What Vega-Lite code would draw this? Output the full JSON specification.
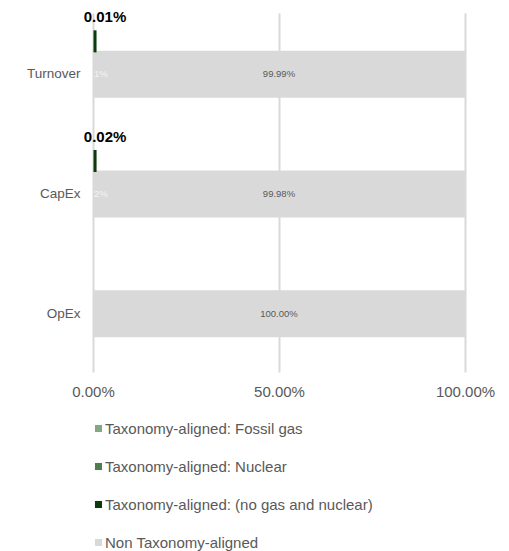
{
  "$schema": "https://vega.github.io/schema/vega-lite/v6.json",
  "autosize": {"type": "none"},
  "padding": {"left": 93, "top": 13, "right": 44, "bottom": 179},
  "width": 372,
  "height": 359,
  "background": "white",
  "config": {
    "font": "Liberation Sans",
    "view": {"stroke": null}
  },
  "data": {
    "values": [
      {"category": "Turnover", "series": "Taxonomy-aligned: (no gas and nuclear)", "value": 0.0001, "label": "0.01%", "inner": "1%"},
      {"category": "Turnover", "series": "Non Taxonomy-aligned", "value": 0.9999, "label": "99.99%", "inner": ""},
      {"category": "CapEx", "series": "Taxonomy-aligned: (no gas and nuclear)", "value": 0.0002, "label": "0.02%", "inner": "2%"},
      {"category": "CapEx", "series": "Non Taxonomy-aligned", "value": 0.9998, "label": "99.98%", "inner": ""},
      {"category": "OpEx", "series": "Non Taxonomy-aligned", "value": 1.0, "label": "100.00%", "inner": ""}
    ]
  },
  "encoding": {
    "y": {
      "field": "category",
      "type": "nominal",
      "sort": ["Turnover", "CapEx", "OpEx"],
      "scale": {"paddingInner": 0, "paddingOuter": 0},
      "axis": {
        "title": null,
        "ticks": false,
        "domain": false,
        "labelFontSize": 13.5,
        "labelColor": "#595959",
        "labelPadding": 13,
        "labelOffset": 1.5
      }
    }
  },
  "layer": [
    {
      "transform": [{"filter": "datum.series === 'Non Taxonomy-aligned'"}],
      "mark": {"type": "bar", "height": 47, "yOffset": 1.5},
      "encoding": {
        "x": {
          "field": "value",
          "type": "quantitative",
          "scale": {"domain": [0, 1], "nice": false},
          "axis": {
            "title": null,
            "values": [0, 0.5, 1],
            "format": ".2%",
            "grid": true,
            "gridColor": "#d9d9d9",
            "gridWidth": 2,
            "ticks": false,
            "domain": false,
            "labelFontSize": 15,
            "labelColor": "#595959",
            "labelPadding": 12,
            "labelFlush": false
          }
        },
        "color": {
          "field": "series",
          "type": "nominal",
          "scale": {
            "domain": ["Taxonomy-aligned: Fossil gas", "Taxonomy-aligned: Nuclear", "Taxonomy-aligned: (no gas and nuclear)", "Non Taxonomy-aligned"],
            "range": ["#84a784", "#4e7d4e", "#0b3b0b", "#d9d9d9"]
          },
          "legend": {
            "title": null,
            "orient": "none",
            "legendX": -2,
            "legendY": 408,
            "direction": "vertical",
            "symbolType": "square",
            "symbolSize": 50,
            "symbolStrokeWidth": 0,
            "labelFontSize": 15,
            "labelColor": "#595959",
            "labelOffset": -1,
            "rowPadding": 22,
            "labelLimit": 400
          }
        }
      }
    },
    {
      "transform": [{"filter": "datum.series !== 'Non Taxonomy-aligned'"}],
      "mark": {"type": "bar", "height": 19, "yOffset": -31.5, "xOffset": 2, "stroke": "#0b3b0b", "strokeWidth": 3},
      "encoding": {
        "x": {"field": "value", "type": "quantitative"},
        "color": {"field": "series", "type": "nominal"}
      }
    },
    {
      "transform": [
        {"filter": "datum.series === 'Non Taxonomy-aligned'"},
        {"calculate": "datum.value / 2", "as": "mid"}
      ],
      "mark": {"type": "text", "fontSize": 9.5, "color": "#595959", "yOffset": 1.5},
      "encoding": {
        "x": {"field": "mid", "type": "quantitative"},
        "text": {"field": "label"}
      }
    },
    {
      "transform": [{"filter": "datum.series !== 'Non Taxonomy-aligned'"}],
      "mark": {"type": "text", "fontSize": 9.5, "color": "#f4f4f4", "align": "left", "dx": 1, "yOffset": 1.5},
      "encoding": {
        "x": {"field": "value", "type": "quantitative"},
        "text": {"field": "inner"}
      }
    },
    {
      "transform": [{"filter": "datum.series !== 'Non Taxonomy-aligned'"}],
      "mark": {"type": "text", "fontSize": 15, "fontWeight": "bold", "color": "#000000", "align": "center", "dx": 12, "yOffset": -56},
      "encoding": {
        "x": {"field": "value", "type": "quantitative"},
        "text": {"field": "label"}
      }
    }
  ]
}
